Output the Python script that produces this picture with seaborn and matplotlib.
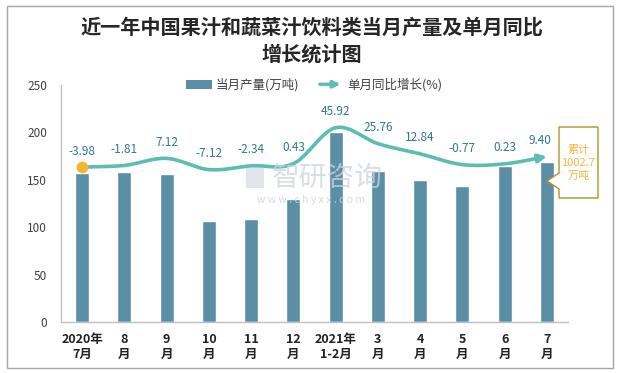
import numpy as np
import pandas as pd
import matplotlib
matplotlib.use("Agg")
import matplotlib.pyplot as plt
import seaborn as sns
from matplotlib.patches import Patch, Polygon, Rectangle, FancyArrowPatch
from matplotlib.legend_handler import HandlerBase

categories = ["2020年\n7月", "8\n月", "9\n月", "10\n月", "11\n月", "12\n月",
              "2021年\n1-2月", "3\n月", "4\n月", "5\n月", "6\n月", "7\n月"]
output = [157.5, 158.5, 156.4, 106.9, 109.0, 129.7, 200.7, 159.6, 149.8, 143.5, 164.6, 169.1]
yoy = [-3.98, -1.81, 7.12, -7.12, -2.34, 0.43, 45.92, 25.76, 12.84, -0.77, 0.23, 9.40]
yoy_labels = ["-3.98", "-1.81", "7.12", "-7.12", "-2.34", "0.43", "45.92", "25.76",
              "12.84", "-0.77", "0.23", "9.40"]
cum_text = "累计\n1002.7\n万吨"

sns.set_theme(style="white")
plt.rcParams['font.family'] = ['Noto Sans CJK SC', 'DejaVu Sans']
plt.rcParams['axes.unicode_minus'] = False

W, H = 621, 373


def fp(x, y):
    return (x / W, 1 - y / H)


fig = plt.figure(figsize=(W / 100, H / 100), dpi=100)
ax = fig.add_axes([61 / W, 1 - 322 / H, (568 - 61) / W, (322 - 85) / H])

bar_color = "#5B8FA6"
line_color = "#5DBDB3"
label_color = "#2E7A8C"

df = pd.DataFrame({"cat": categories, "output": output})
sns.barplot(data=df, x="cat", y="output", color=bar_color, width=0.33,
            saturation=1, ax=ax)
ax.set_ylim(0, 250)
ax.set_xlim(-0.5, len(categories) - 0.5)
ax.set_yticks([0, 50, 100, 150, 200, 250])
ax.set_xlabel("")
ax.set_ylabel("")
ax.tick_params(axis='y', labelsize=8.5, colors="#404040", length=0, pad=10)
ax.tick_params(axis='x', labelsize=9, colors="#222222", length=0, pad=8)
for t in ax.get_xticklabels():
    t.set_fontweight("bold")
for s in ["top", "right"]:
    ax.spines[s].set_visible(False)
for s in ["left", "bottom"]:
    ax.spines[s].set_color("#BFBFBF")
    ax.spines[s].set_linewidth(1)
# category boundary ticks
ax.set_xticks(np.arange(-0.5, len(categories), 1), minor=True)
ax.tick_params(axis='x', which='minor', length=4, color="#BFBFBF", direction='out')

# secondary axis for YoY
ax2 = ax.twinx()
ax2.set_ylim(-200, 100)
ax2.axis("off")

# smooth curve (Catmull-Rom) through yoy points
xs = np.arange(len(yoy), dtype=float)
ys = np.array(yoy, dtype=float)
px = np.concatenate([[2 * xs[0] - xs[1]], xs, [2 * xs[-1] - xs[-2]]])
py = np.concatenate([[2 * ys[0] - ys[1]], ys, [2 * ys[-1] - ys[-2]]])
cx, cy = [], []
tt = np.linspace(0, 1, 30)
for i in range(1, len(px) - 2):
    p0, p1, p2, p3 = [np.array([px[j], py[j]]) for j in (i - 1, i, i + 1, i + 2)]
    for t in tt[:-1] if i < len(px) - 3 else tt:
        pt = 0.5 * ((2 * p1) + (-p0 + p2) * t + (2 * p0 - 5 * p1 + 4 * p2 - p3) * t ** 2
                    + (-p0 + 3 * p1 - 3 * p2 + p3) * t ** 3)
        cx.append(pt[0]); cy.append(pt[1])
cx = np.array(cx); cy = np.array(cy)
ax2.plot(cx[:-3], cy[:-3], color=line_color, lw=2.6, solid_capstyle='butt', zorder=3)
ax2.annotate("", xy=(cx[-1], cy[-1]), xytext=(cx[-6], cy[-6]),
             arrowprops=dict(arrowstyle='-|>', color=line_color, lw=2.6,
                             mutation_scale=12, shrinkA=0, shrinkB=0), zorder=3)
ax2.scatter([xs[0]], [ys[0]], s=55, color="#F4B62E", zorder=4)

for i, (v, lab) in enumerate(zip(yoy, yoy_labels)):
    dx = -5 if i == len(yoy) - 1 else 0
    ax2.annotate(lab, xy=(i, v), xytext=(dx, 11.5), textcoords="offset points",
                 ha="center", va="center", fontsize=8.5, color=label_color)

# watermark
wm = "#CDD3DC"
fig.text(327 / W, 1 - 178 / H, "智研咨询", fontsize=20, color=wm,
         ha="center", va="center", alpha=0.75)
fig.add_artist(Rectangle(fp(246, 188), 18 / W, 20 / H,
                         facecolor=wm, edgecolor='none', alpha=0.6,
                         transform=fig.transFigure))
fig.text(311 / W, 1 - 200 / H, "w w w . c h y x x . c o m", fontsize=7.5,
         color=wm, ha="center", va="center", alpha=0.85)


# legend
class HandlerArrow(HandlerBase):
    def create_artists(self, legend, orig_handle, xd, yd, width, height, fontsize, trans):
        a = FancyArrowPatch((0, height / 2), (width, height / 2),
                            arrowstyle='-|>', mutation_scale=10, lw=2.4,
                            color=line_color, transform=trans)
        return [a]


arrow_handle = Rectangle((0, 0), 1, 1)
leg = fig.legend([Patch(facecolor=bar_color, edgecolor='none'), arrow_handle],
                 ["当月产量(万吨)", "单月同比增长(%)"],
                 handler_map={Rectangle: HandlerArrow()},
                 loc="center", bbox_to_anchor=(314 / W, 1 - 85 / H), ncol=2,
                 frameon=False, fontsize=9, handlelength=2.1, handleheight=0.75,
                 columnspacing=1.4, handletextpad=0.3, labelcolor="#404040")

# title
fig.text(312 / W, 1 - 41 / H, "近一年中国果汁和蔬菜汁饮料类当月产量及单月同比\n增长统计图",
         ha="center", va="center", fontsize=14.5, fontweight="bold", color="#262626",
         linespacing=1.35)

# callout box
poly = Polygon([fp(559, 127), fp(598, 127), fp(598, 198), fp(559, 198),
                fp(559, 189), fp(547, 181), fp(559, 173)], closed=True,
               facecolor="white", edgecolor="#B8902A", lw=1,
               transform=fig.transFigure, zorder=5)
fig.add_artist(poly)
fig.text(578.5 / W, 1 - 163 / H, cum_text, ha="center", va="center", fontsize=8,
         color="#F2B544", linespacing=1.35, zorder=6)

# outer border
fig.add_artist(Rectangle(fp(7, 368), (613 - 7) / W, (368 - 6) / H, fill=False,
                         edgecolor="#A6A6A6", lw=1, transform=fig.transFigure))

fig.savefig("out.png", dpi=100)
